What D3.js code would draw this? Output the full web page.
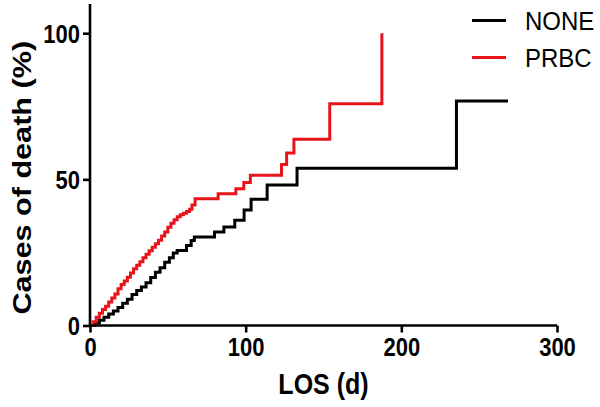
<!DOCTYPE html>
<html>
<head>
<meta charset="utf-8">
<script src="https://cdn.jsdelivr.net/npm/d3@7"></script>
<style>
  html, body { margin: 0; padding: 0; background: #fff; }
  svg { display: block; }
  text { font-family: "Liberation Sans", Arial, sans-serif; fill: #000; }
</style>
</head>
<body>
<svg id="chart" width="600" height="407"></svg>
<script>
// ---- data (Kaplan-Meier style cumulative incidence, LOS in days vs % deaths) ----
const seriesNames = ["NONE", "PRBC"];
const seriesColors = ["#000000", "#e8141c"];

const noneTimes = [0, 3, 6, 9, 12, 15, 18, 21, 24, 27, 30, 33, 36, 39, 42, 45, 48, 51, 53.5, 56, 62, 65, 67, 80, 86, 93, 99, 103.5, 113.8, 133, 235.4, 268.5];
const noneValues = [0, 0.9, 1.8, 2.8, 3.9, 5.0, 6.2, 7.6, 9.0, 10.6, 12.0, 13.2, 14.6, 16.4, 18.2, 19.8, 21.6, 23.2, 24.8, 25.7, 27.4, 29.1, 30.3, 32.0, 33.7, 36.0, 39.5, 43.2, 48.1, 53.8, 76.8, 76.8];

const prbcTimes = [0, 2, 4, 6, 8, 10, 12, 14, 16, 18, 20, 22, 24, 26, 28, 30, 32, 34, 36, 38, 40, 42, 44, 46, 48, 50, 52, 54, 56, 58, 60, 62, 64, 65.5, 67.5, 82.3, 93.7, 98.8, 103, 123, 126.3, 131, 154, 187.5];
const prbcValues = [0, 1.3, 2.8, 4.2, 5.5, 6.6, 8.0, 9.4, 10.8, 12.6, 14.0, 15.2, 16.5, 18.0, 19.4, 20.6, 21.8, 23.2, 24.4, 25.6, 26.8, 28.0, 29.2, 30.6, 32.0, 33.6, 35.0, 36.2, 37.2, 37.9, 38.4, 39.0, 39.8, 41.2, 43.4, 45.1, 46.8, 48.9, 51.4, 55.1, 59.0, 63.7, 75.9, 100];

const xTicks = [0, 100, 200, 300];
const yTicks = [0, 50, 100];
const xTitle = "LOS (d)";
const yTitle = "Cases of death (%)";

// ---- drawing ----
const svg = d3.select("#chart");
const x = d3.scaleLinear().domain([0, 300]).range([90, 557]);
const y = d3.scaleLinear().domain([0, 110]).range([325.5, 4]);

const series = [
  { name: seriesNames[0], color: seriesColors[0], pts: noneTimes.map((t, i) => [t, noneValues[i]]) },
  { name: seriesNames[1], color: seriesColors[1], pts: prbcTimes.map((t, i) => [t, prbcValues[i]]) }
];

const line = d3.line().x(d => x(d[0])).y(d => y(d[1])).curve(d3.curveStepAfter);

series.forEach(s => {
  svg.append("path")
    .attr("d", line(s.pts))
    .attr("fill", "none")
    .attr("stroke", s.color)
    .attr("stroke-width", 3)
    .attr("stroke-linejoin", "miter");
});

// axes
const xAxis = svg.append("g").attr("transform", `translate(0,${y(0)})`)
  .call(d3.axisBottom(x).tickValues(xTicks).tickSize(7).tickFormat(d3.format("d")));
const yAxis = svg.append("g").attr("transform", `translate(${x(0)},0)`)
  .call(d3.axisLeft(y).tickValues(yTicks).tickSize(7).tickFormat(d3.format("d")));

[xAxis, yAxis].forEach(g => {
  g.select(".domain").attr("stroke", "#000").attr("stroke-width", 2.6);
  g.selectAll(".tick line").attr("stroke", "#000").attr("stroke-width", 2.6);
  g.selectAll(".tick text").attr("font-size", 22).attr("font-weight", "bold")
    .attr("font-family", "Liberation Sans, Arial, sans-serif").attr("fill", "#000");
});
xAxis.select(".domain").attr("d", `M${x(0)},0H${x(300)}`);
yAxis.select(".domain").attr("d", `M0,${y(0)}V${y(110)}`);

xAxis.selectAll(".tick text").attr("y", 0).attr("dy", 0)
  .attr("transform", "translate(0,30) scale(1,1.2)");
yAxis.selectAll(".tick text").attr("x", 0).attr("dy", 0).attr("dominant-baseline", "central")
  .attr("transform", "translate(-10,0) scale(1,1.2)");

// titles
svg.append("text")
  .attr("transform", `translate(${x(150)},394) scale(1,1.2)`)
  .attr("text-anchor", "middle")
  .attr("font-size", 25).attr("font-weight", "bold")
  .text(xTitle);
svg.append("text")
  .attr("transform", `translate(31,${(y(0) + 30) / 2}) scale(1,1.2) rotate(-90)`)
  .attr("text-anchor", "middle")
  .attr("font-size", 25.5).attr("font-weight", "bold")
  .text(yTitle);

// legend
const legY = [20.5, 57.5];
series.forEach((s, i) => {
  svg.append("line")
    .attr("x1", 472).attr("x2", 506)
    .attr("y1", legY[i]).attr("y2", legY[i])
    .attr("stroke", s.color).attr("stroke-width", 3);
  svg.append("text")
    .attr("transform", `translate(525,${legY[i]}) scale(1,1.1)`)
    .attr("dominant-baseline", "central")
    .attr("font-size", 24)
    .text(s.name);
});
</script>
</body>
</html>
